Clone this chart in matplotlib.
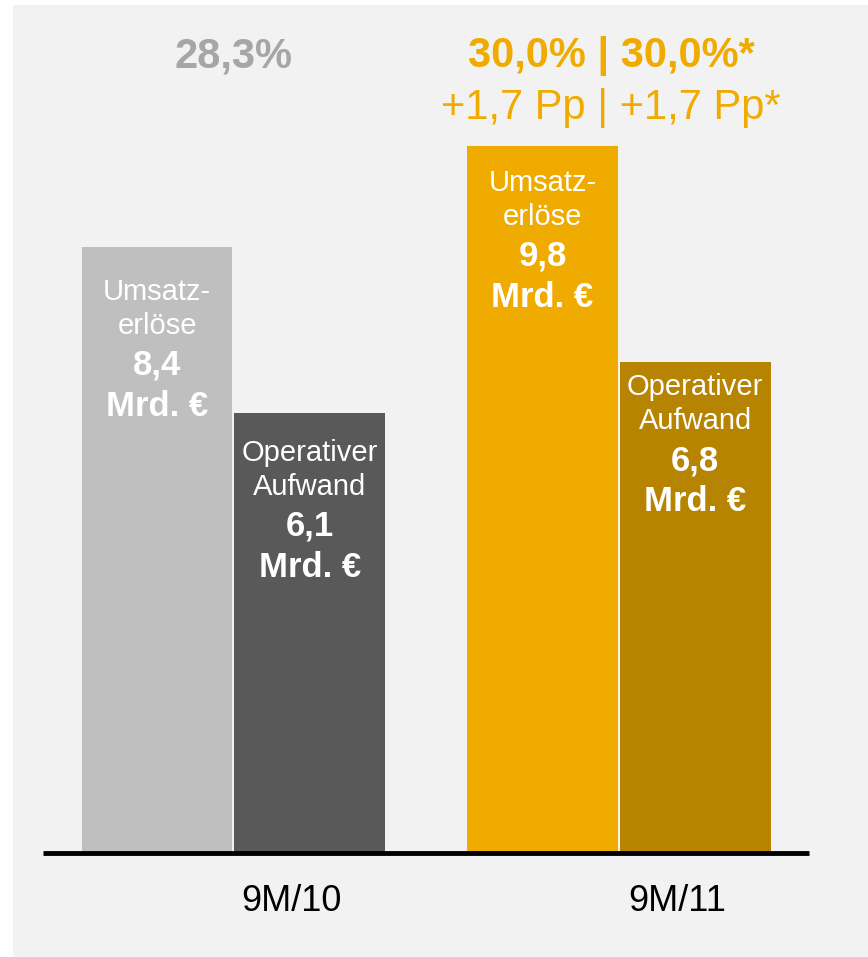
import numpy as np
import matplotlib.pyplot as plt
from matplotlib.patches import Rectangle

periods = ['9M/10', '9M/11']
umsatz = [8.4, 9.8]
aufwand = [6.1, 6.8]
umsatz_txt = ['8,4', '9,8']
aufwand_txt = ['6,1', '6,8']
margin_top = ['28,3%', '30,0% | 30,0%*']
margin_sub = ['', '+1,7 Pp | +1,7 Pp*']

umsatz_colors = ['#bfbfbf', '#f0ab00']
aufwand_colors = ['#595959', '#b68400']
top_colors = ['#a6a6a6', '#f0ab00']


def main():
    plt.rcParams['font.family'] = ['Liberation Sans', 'DejaVu Sans']
    fig = plt.figure(figsize=(8.68, 9.57), dpi=100)
    fig.patch.set_facecolor('white')
    fig.patches.append(Rectangle((13 / 868, -0.01), 1, 1.01 - 5 / 957,
                                 transform=fig.transFigure,
                                 facecolor='#f2f2f2', edgecolor='none', zorder=-1))

    ax = fig.add_axes([43 / 868, 104 / 957, 766 / 868, 848 / 957])
    ax.set_facecolor('none')
    px = 72.15  # pixels per unit
    ax.set_xlim(-0.494, 1.493)
    ax.set_ylim(0, 848 / px)

    ind = np.arange(len(periods))
    w = 0.396
    ax.bar(ind - w / 2, umsatz, w - 0.005, color=umsatz_colors, linewidth=0)
    ax.bar(ind + w / 2, aufwand, w - 0.005, color=aufwand_colors, linewidth=0)

    for s in ['top', 'right', 'left']:
        ax.spines[s].set_visible(False)
    ax.spines['bottom'].set_linewidth(3.5)
    ax.spines['bottom'].set_color('black')
    ax.spines['bottom'].set_capstyle('butt')
    ax.set_yticks([])
    ax.set_xticks(ind + 0.15)
    ax.set_xticklabels(periods, fontsize=26)
    ax.tick_params(axis='x', length=0, pad=22)

    # labels inside bars (first baseline offset from bar top, px)
    first_off = [[53, 48], [45, 33]]
    line_off = [0, 34, 75, 116]
    for i in range(len(periods)):
        for j, (val, txt, name) in enumerate([
                (umsatz[i], umsatz_txt[i], ['Umsatz-', 'erlöse']),
                (aufwand[i], aufwand_txt[i], ['Operativer', 'Aufwand'])]):
            xc = ind[i] + (j - 0.5) * w
            lines = [(name[0], 'normal', 21), (name[1], 'normal', 21),
                     (txt, 'bold', 25), ('Mrd. €', 'bold', 25)]
            for k, (t, fw, fs) in enumerate(lines):
                y = val - (first_off[i][j] + line_off[k]) / px
                ax.text(xc, y, t, ha='center', va='baseline', color='white',
                        fontsize=fs, fontweight=fw)

    top_shift = [0.0, -0.02]
    for i in range(len(periods)):
        ax.text(ind[i] + top_shift[i], (853 - 67) / px, margin_top[i], ha='center',
                va='baseline', color=top_colors[i], fontsize=30, fontweight='bold')
        if margin_sub[i]:
            ax.text(ind[i] + top_shift[i], (853 - 119) / px, margin_sub[i], ha='center',
                    va='baseline', color=top_colors[i], fontsize=30)

    fig.savefig('out.png', dpi=100, facecolor=fig.get_facecolor())


main()
